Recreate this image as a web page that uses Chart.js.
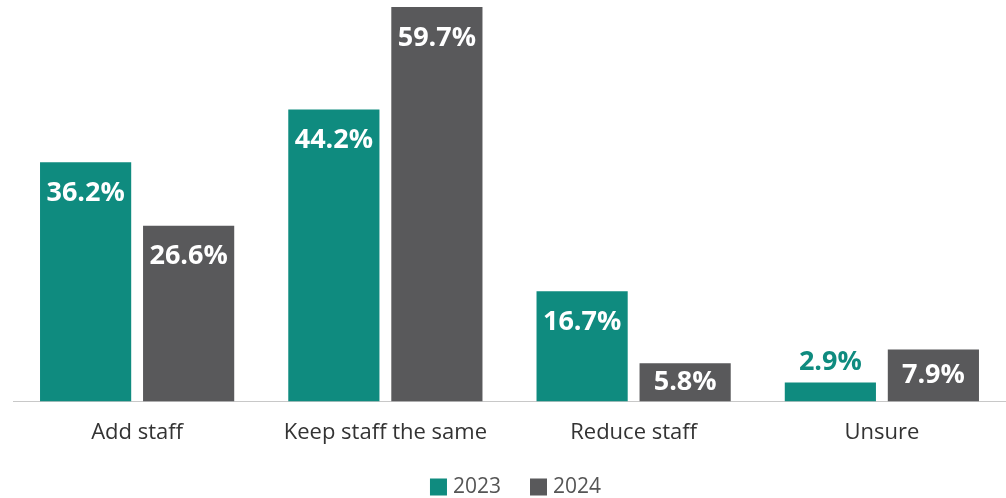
<!DOCTYPE html>
<html lang="en">
<head>
  <meta charset="UTF-8" />
  <title>Staffing plans</title>
  <script src="https://cdn.jsdelivr.net/npm/chart.js"></script>
  <style>
    body {
      margin: 0;
      background: #fff;
      font-family: 'Open Sans', sans-serif;
    }
    .wrap {
      width: 1006px;
      height: 498px;
    }
  </style>
</head>
<body>
  <div class="wrap"><canvas id="staffChart"></canvas></div>

  <script>
    const categories = ['Add staff', 'Keep staff the same', 'Reduce staff', 'Unsure']
    const seriesNames = ['2023', '2024']
    const values2023 = [36.2, 44.2, 16.7, 2.9]
    const values2024 = [26.6, 59.7, 5.8, 7.9]

    const teal = '#0f8b7f'
    const grey = '#59595b'

    // % labels: white inside the top of the bar, or in the bar colour above it when the bar is tiny
    const barLabels = {
      id: 'barLabels',
      afterDatasetsDraw(chart) {
        const ctx = chart.ctx
        ctx.save()
        ctx.font = 'bold 27px "Open Sans"'
        ctx.textAlign = 'center'
        ctx.textBaseline = 'middle'
        chart.data.datasets.forEach((ds, i) => {
          const meta = chart.getDatasetMeta(i)
          meta.data.forEach((bar, j) => {
            const txt = ds.data[j].toFixed(1) + '%'
            const h = bar.base - bar.y
            if (h > 30) {
              ctx.fillStyle = '#fff'
              ctx.fillText(txt, bar.x, bar.y + Math.min(31, h / 2))
            } else {
              ctx.fillStyle = ds.backgroundColor
              ctx.fillText(txt, bar.x, bar.y - 20)
            }
          })
        })
        ctx.restore()
      }
    }

    // legend at the bottom, square swatches with tighter spacing than the built-in one
    const bottomLegend = {
      id: 'bottomLegend',
      afterDraw(chart) {
        const ctx = chart.ctx
        const box = 17, gap = 6, spacing = 29
        ctx.save()
        ctx.font = '21px "Open Sans"'
        ctx.textBaseline = 'middle'
        const items = chart.data.datasets.map(ds => ({ text: ds.label, color: ds.backgroundColor, w: ctx.measureText(ds.label).width }))
        const total = items.reduce((s, it) => s + box + gap + it.w, 0) + spacing * (items.length - 1)
        let x = (chart.chartArea.left + chart.chartArea.right) / 2 - total / 2 + 6
        const y = 487
        items.forEach(it => {
          ctx.fillStyle = it.color
          ctx.fillRect(x, y - box / 2, box, box)
          ctx.fillStyle = '#555'
          ctx.fillText(it.text, x + box + gap, y)
          x += box + gap + it.w + spacing
        })
        ctx.restore()
      }
    }

    new Chart(staffChart, {
      type: 'bar',
      data: {
        labels: categories,
        datasets: [
          { label: seriesNames[0], data: values2023, backgroundColor: teal },
          { label: seriesNames[1], data: values2024, backgroundColor: grey }
        ]
      },
      options: {
        responsive: true,
        maintainAspectRatio: false,
        animation: false,
        categoryPercentage: 0.83,
        barPercentage: 0.885,
        layout: { padding: { left: 13, right: 0, top: 7, bottom: 42 } },
        plugins: {
          legend: { display: false },
          tooltip: { enabled: false }
        },
        scales: {
          x: {
            grid: { display: false },
            border: { display: true, color: '#c8c8c8', width: 1 },
            ticks: {
              color: '#333',
              padding: 10,
              font: { family: 'Open Sans', size: 22 }
            }
          },
          y: {
            display: false,
            min: 0,
            max: 59.7
          }
        }
      },
      plugins: [barLabels, bottomLegend]
    })
  </script>
</body>
</html>
